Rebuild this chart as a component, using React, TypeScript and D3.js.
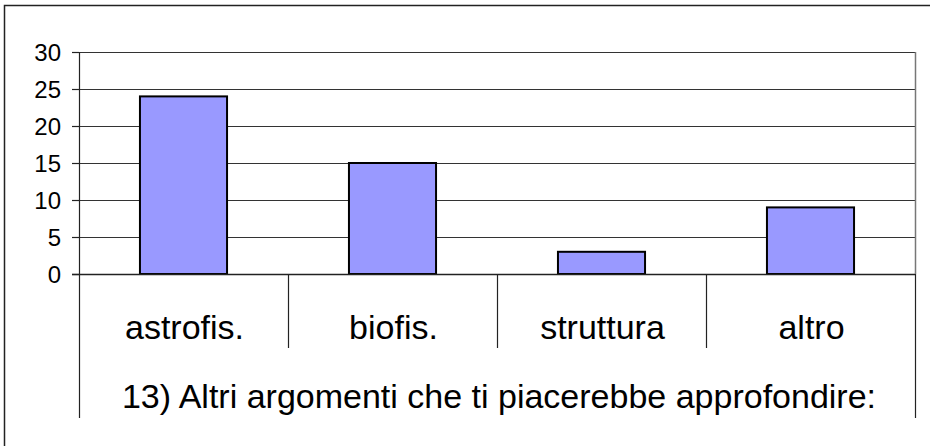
import { useRef, useEffect } from 'react'
import * as d3 from 'd3'

const categories = ['astrofis.', 'biofis.', 'struttura', 'altro']
const values = [24, 15, 3, 9]
const yTicks = [0, 5, 10, 15, 20, 25, 30]
const title = '13) Altri argomenti che ti piacerebbe approfondire:'

export default function App() {
  const svgRef = useRef<SVGSVGElement>(null)
  const width = 930
  const height = 446

  useEffect(() => {
    if (!svgRef.current) return
    const svg = d3.select(svgRef.current)
    svg.selectAll('*').remove()

    const plot = { left: 79, right: 915, top: 52, bottom: 274 }
    const font = '"Liberation Sans", Arial, sans-serif'

    // outer frame (only top and left edges visible)
    svg.append('path')
      .attr('d', `M4.5,${height} V5.5 H${width}`)
      .style('fill', 'none')
      .style('stroke', '#222')
      .style('stroke-width', 1.5)

    const x = d3.scaleBand<string>()
      .domain(categories)
      .range([plot.left, plot.right])

    const y = d3.scaleLinear()
      .domain([0, 30])
      .range([plot.bottom, plot.top])

    // gridlines
    svg.append('g')
      .selectAll('line')
      .data(yTicks.filter(d => d > 0))
      .enter()
      .append('line')
      .attr('x1', plot.left)
      .attr('x2', plot.right)
      .attr('y1', d => Math.round(y(d)) + 0.5)
      .attr('y2', d => Math.round(y(d)) + 0.5)
      .style('stroke', '#333')
      .style('stroke-width', 1.2)

    // right border of plot
    svg.append('line')
      .attr('x1', plot.right + 0.5)
      .attr('x2', plot.right + 0.5)
      .attr('y1', plot.top)
      .attr('y2', plot.bottom)
      .style('stroke', '#777')
      .style('stroke-width', 1.5)

    // bars
    const barW = x.bandwidth() / 2.4
    svg.append('g')
      .selectAll('rect')
      .data(values)
      .enter()
      .append('rect')
      .attr('x', (d, i) => x(categories[i])! + (x.bandwidth() - barW) / 2)
      .attr('y', d => y(d))
      .attr('width', barW)
      .attr('height', d => y(0) - y(d))
      .style('fill', '#9999FF')
      .style('stroke', '#000')
      .style('stroke-width', 2)

    // y axis
    svg.append('line')
      .attr('x1', plot.left + 0.5)
      .attr('x2', plot.left + 0.5)
      .attr('y1', plot.top)
      .attr('y2', 418)
      .style('stroke', '#222')
      .style('stroke-width', 1.2)

    svg.append('line')
      .attr('x1', plot.right + 0.5)
      .attr('x2', plot.right + 0.5)
      .attr('y1', plot.bottom)
      .attr('y2', 418)
      .style('stroke', '#222')
      .style('stroke-width', 1.2)

    const yAxis = svg.append('g')
    yAxis.selectAll('line')
      .data(yTicks)
      .enter()
      .append('line')
      .attr('x1', 72)
      .attr('x2', plot.left)
      .attr('y1', d => Math.round(y(d)) + 0.5)
      .attr('y2', d => Math.round(y(d)) + 0.5)
      .style('stroke', '#222')
      .style('stroke-width', 1.2)
    yAxis.selectAll('text')
      .data(yTicks)
      .enter()
      .append('text')
      .attr('x', 61)
      .attr('y', d => y(d))
      .attr('dy', '0.36em')
      .attr('text-anchor', 'end')
      .style('font-family', font)
      .style('font-size', '24px')
      .style('fill', '#000')
      .text(d => d)

    // x axis baseline
    svg.append('line')
      .attr('x1', 72)
      .attr('x2', plot.right)
      .attr('y1', plot.bottom + 0.5)
      .attr('y2', plot.bottom + 0.5)
      .style('stroke', '#222')
      .style('stroke-width', 1.5)

    // category separators
    svg.append('g')
      .selectAll('line')
      .data(categories.slice(1))
      .enter()
      .append('line')
      .attr('x1', d => Math.round(x(d)!) + 0.5)
      .attr('x2', d => Math.round(x(d)!) + 0.5)
      .attr('y1', plot.bottom)
      .attr('y2', 348)
      .style('stroke', '#222')
      .style('stroke-width', 1.2)

    // category labels
    svg.append('g')
      .selectAll('text')
      .data(categories)
      .enter()
      .append('text')
      .attr('x', d => x(d)! + x.bandwidth() / 2 + 1)
      .attr('y', 339)
      .attr('text-anchor', 'middle')
      .style('font-family', font)
      .style('font-size', '34px')
      .style('fill', '#000')
      .text(d => d)

    // title
    svg.append('text')
      .attr('x', (plot.left + plot.right) / 2 + 2)
      .attr('y', 408)
      .attr('text-anchor', 'middle')
      .style('font-family', font)
      .style('font-size', '34px')
      .style('fill', '#000')
      .text(title)
  }, [])

  return (
    <svg
      ref={svgRef}
      width={width}
      height={height}
      style={{ position: 'absolute', left: 0, top: 0, background: '#fff', display: 'block' }}
    />
  )
}
